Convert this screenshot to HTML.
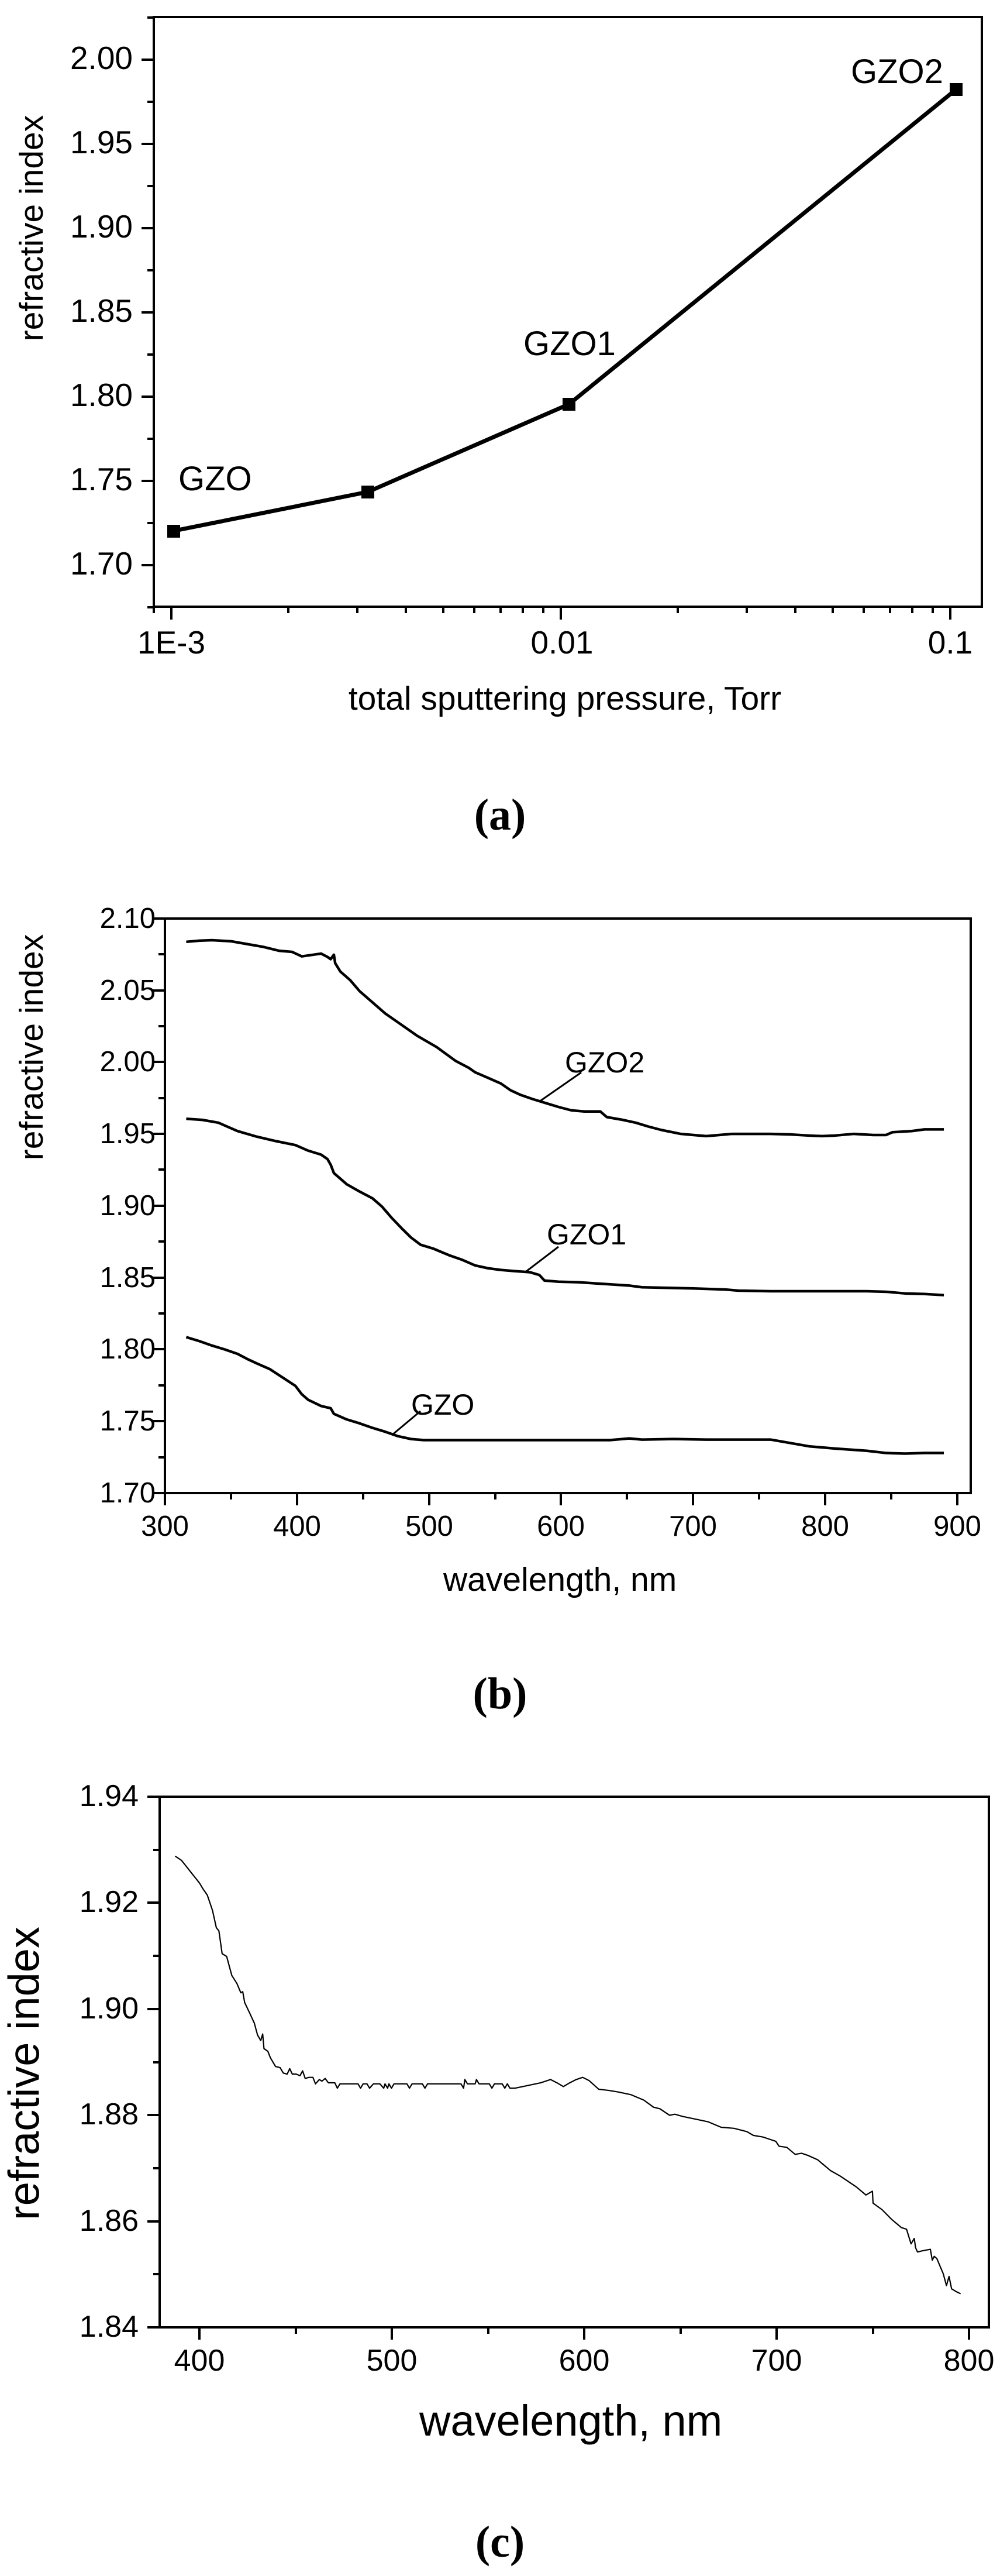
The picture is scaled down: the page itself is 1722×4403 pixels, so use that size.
<!DOCTYPE html>
<html><head><meta charset="utf-8"><style>
html,body{margin:0;padding:0;background:#fff;}
svg{display:block;}
text{font-family:"Liberation Sans",Arial,sans-serif;fill:#000;}
.cap{font-family:"Liberation Serif","Times New Roman",serif;font-weight:bold;}
</style></head><body>
<svg width="1722" height="4403" viewBox="0 0 1722 4403" xmlns="http://www.w3.org/2000/svg">
<rect width="1722" height="4403" fill="#fff"/>

<!-- ============ PANEL A ============ -->
<g stroke="#000" stroke-width="4" fill="none">
<rect x="263" y="29" width="1416" height="1008"/>
<!-- y ticks: 1.70 at 966, per 0.05 = 144 -->
<path d="M242 966H263 M242 822H263 M242 678H263 M242 534H263 M242 390H263 M242 246H263 M242 102H263
M252 1038H263 M252 894H263 M252 750H263 M252 606H263 M252 462H263 M252 318H263 M252 174H263 M252 30H263"/>
<!-- x ticks, log: 1E-3 at 293, decade 666 -->
<path d="M293 1037V1059 M959 1037V1059 M1625 1037V1059
M263 1037V1048
M493 1037V1048 M611 1037V1048 M694 1037V1048 M758 1037V1048 M811 1037V1048 M856 1037V1048 M894 1037V1048 M929 1037V1048
M1159 1037V1048 M1277 1037V1048 M1360 1037V1048 M1424 1037V1048 M1477 1037V1048 M1522 1037V1048 M1560 1037V1048 M1595 1037V1048"/>
</g>
<g font-size="55" text-anchor="end">
<text x="227" y="982">1.70</text><text x="227" y="838">1.75</text><text x="227" y="694">1.80</text>
<text x="227" y="550">1.85</text><text x="227" y="406">1.90</text><text x="227" y="262">1.95</text><text x="227" y="118">2.00</text>
</g>
<g font-size="55" text-anchor="middle">
<text x="293" y="1117">1E-3</text><text x="961" y="1117">0.01</text><text x="1625" y="1117">0.1</text>
</g>
<text x="966" y="1213" font-size="57" text-anchor="middle">total sputtering pressure, Torr</text>
<text transform="translate(58,390) rotate(-90)" font-size="57" text-anchor="middle" dominant-baseline="middle">refractive index</text>
<g transform="scale(1.0995,0.926)">
<polyline points="270,980 572,908 885,746 1487,165" fill="none" stroke="#000" stroke-width="7" vector-effect="non-scaling-stroke"/>
</g>
<g fill="#000">
<rect x="286" y="897" width="22" height="22"/>
<rect x="618" y="830" width="22" height="22"/>
<rect x="962" y="680" width="22" height="22"/>
<rect x="1624" y="142" width="22" height="22"/>
</g>
<g font-size="58">
<text x="305" y="838">GZO</text><text x="895" y="607">GZO1</text><text x="1455" y="142">GZO2</text>
</g>
<text class="cap" x="855" y="1418" font-size="76" text-anchor="middle">(a)</text>

<!-- ============ PANEL B ============ -->
<g stroke="#000" stroke-width="4" fill="none">
<rect x="282" y="1570" width="1378" height="982"/>
<!-- y: 1.70 at 2552, 2.10 at 1570; per 0.05 = 122.75 -->
<path d="M261 2552H282 M261 2429H282 M261 2306H282 M261 2184H282 M261 2061H282 M261 1938H282 M261 1815H282 M261 1693H282 M261 1570H282
M271 2491H282 M271 2368H282 M271 2245H282 M271 2122H282 M271 1999H282 M271 1877H282 M271 1754H282 M271 1631H282"/>
<!-- x: 300 at 282, per 100 = 225.8 -->
<path d="M282 2552V2573 M508 2552V2573 M734 2552V2573 M959 2552V2573 M1185 2552V2573 M1411 2552V2573 M1637 2552V2573
M395 2552V2563 M621 2552V2563 M847 2552V2563 M1072 2552V2563 M1298 2552V2563 M1524 2552V2563"/>
</g>
<g font-size="49" text-anchor="end">
<text x="266" y="2568">1.70</text><text x="266" y="2445">1.75</text><text x="266" y="2322">1.80</text><text x="266" y="2200">1.85</text>
<text x="266" y="2077">1.90</text><text x="266" y="1954">1.95</text><text x="266" y="1831">2.00</text><text x="266" y="1709">2.05</text><text x="266" y="1586">2.10</text>
</g>
<g font-size="49" text-anchor="middle">
<text x="282" y="2625">300</text><text x="508" y="2625">400</text><text x="734" y="2625">500</text><text x="959" y="2625">600</text>
<text x="1185" y="2625">700</text><text x="1411" y="2625">800</text><text x="1637" y="2625">900</text>
</g>
<text x="758" y="2719" font-size="57">wavelength, nm</text>
<text transform="translate(58,1790) rotate(-90)" font-size="57" text-anchor="middle" dominant-baseline="middle">refractive index</text>
<g transform="translate(0,1450) scale(1.098,0.957)" fill="none" stroke="#000" stroke-width="4.5" stroke-linejoin="round">
<polyline vector-effect="non-scaling-stroke" points="290,167 310,165 330,164 360,166 390,172 410,176 435,183 455,185 470,193 500,188 510,194 515,198 520,190 522,205 530,220 545,235 560,255 580,275 600,295 625,315 650,335 680,355 710,380 730,392 740,400 760,410 780,420 795,432 810,440 830,448 850,455 870,462 890,468 910,470 935,470 945,480 970,485 990,490 1010,497 1030,503 1060,510 1080,512 1100,514 1120,512 1140,510 1180,510 1200,510 1230,511 1260,513 1280,514 1300,513 1330,510 1360,512 1380,512 1390,507 1420,505 1440,502 1470,502"/>
<polyline vector-effect="non-scaling-stroke" points="290,483 315,485 340,490 370,505 400,515 430,523 460,530 480,540 500,547 510,555 515,565 520,580 530,590 540,600 560,613 580,625 595,640 610,660 625,678 640,695 655,708 675,715 700,727 720,735 740,745 760,750 780,753 800,755 825,757 840,762 848,772 870,774 900,775 940,778 980,781 1000,784 1040,785 1080,786 1130,788 1150,790 1200,791 1250,791 1300,791 1350,791 1380,792 1410,795 1440,796 1470,798"/>
<polyline vector-effect="non-scaling-stroke" points="290,873 310,880 330,888 350,895 370,903 385,912 400,920 420,930 440,945 460,960 470,975 480,985 500,996 515,1000 520,1010 540,1020 560,1027 580,1035 600,1042 620,1050 640,1055 660,1057 700,1057 750,1057 800,1057 900,1057 950,1057 980,1054 1000,1056 1050,1055 1100,1056 1150,1056 1200,1056 1230,1062 1260,1068 1300,1072 1350,1076 1380,1080 1410,1081 1440,1080 1470,1080"/>
</g>
<g stroke="#000" stroke-width="3">
<line x1="922" y1="1883" x2="994" y2="1833"/>
<line x1="900" y1="2173" x2="955" y2="2131"/>
<line x1="670" y1="2453" x2="719" y2="2412"/>
</g>
<g font-size="50">
<text x="966" y="1833">GZO2</text><text x="935" y="2127">GZO1</text><text x="703" y="2418">GZO</text>
</g>
<text class="cap" x="855" y="2920" font-size="76" text-anchor="middle">(b)</text>

<!-- ============ PANEL C ============ -->
<g stroke="#000" stroke-width="4" fill="none">
<rect x="273" y="3071" width="1418" height="907"/>
<!-- y: 1.94 at 3071, 1.84 at 3978; per 0.02 = 181.4 -->
<path d="M252 3071H273 M252 3252H273 M252 3434H273 M252 3615H273 M252 3797H273 M252 3978H273
M262 3162H273 M262 3343H273 M262 3525H273 M262 3706H273 M262 3887H273"/>
<!-- x: 400 at 341, 800 at 1657; per 100 = 329 -->
<path d="M341 3978V3999 M670 3978V3999 M999 3978V3999 M1328 3978V3999 M1657 3978V3999
M506 3978V3989 M835 3978V3989 M1164 3978V3989 M1493 3978V3989"/>
</g>
<g font-size="52" text-anchor="end">
<text x="237" y="3087">1.94</text><text x="237" y="3268">1.92</text><text x="237" y="3450">1.90</text>
<text x="237" y="3631">1.88</text><text x="237" y="3813">1.86</text><text x="237" y="3994">1.84</text>
</g>
<g font-size="52" text-anchor="middle">
<text x="341" y="4052">400</text><text x="670" y="4052">500</text><text x="999" y="4052">600</text>
<text x="1328" y="4052">700</text><text x="1657" y="4052">800</text>
</g>
<text x="717" y="4163" font-size="74">wavelength, nm</text>
<text transform="translate(47,3544) rotate(-90)" font-size="74" text-anchor="middle" dominant-baseline="middle">refractive index</text>
<g transform="translate(0,2950) scale(1.101,0.927)" fill="none" stroke="#000" stroke-width="2.2" stroke-linejoin="round">
<polyline vector-effect="non-scaling-stroke" points="272,240 282,248 290,260 300,275 310,290 315,300 322,312 330,340 336,372 340,378 345,420 352,425 360,460 368,475 374,492 377,490 380,510 388,530 395,548 400,570 405,580 408,568 410,595 416,600 420,612 428,628 435,630 440,640 446,642 450,632 454,642 460,642 466,645 470,636 474,650 480,648 486,648 490,660 496,652 500,655 505,650 510,658 520,658 524,668 528,660 540,660 556,660 560,668 564,660 570,660 574,668 580,660 590,660 596,668 598,660 602,668 604,660 608,668 612,660 620,660 632,660 636,668 640,660 656,660 660,668 664,660 690,660 716,660 720,668 722,652 726,660 738,660 740,652 744,660 760,660 764,668 768,660 780,660 784,668 788,660 792,668 800,668 820,663 840,658 855,652 865,658 875,665 885,658 895,652 905,648 915,654 930,670 945,672 960,675 980,680 1000,690 1015,703 1025,706 1040,718 1048,716 1060,720 1080,725 1100,730 1120,740 1140,742 1160,748 1170,755 1185,758 1195,762 1205,766 1210,775 1222,777 1235,790 1245,788 1255,792 1270,800 1280,810 1290,820 1305,830 1320,842 1330,850 1345,865 1352,860 1355,858 1356,880 1370,892 1385,910 1400,925 1408,928 1415,955 1420,945 1422,962 1425,970 1432,968 1445,965 1448,985 1451,978 1455,982 1465,1010 1470,1032 1474,1015 1478,1038 1485,1043 1492,1047"/>
</g>
<text class="cap" x="855" y="4370" font-size="76" text-anchor="middle">(c)</text>
</svg>
</body></html>
